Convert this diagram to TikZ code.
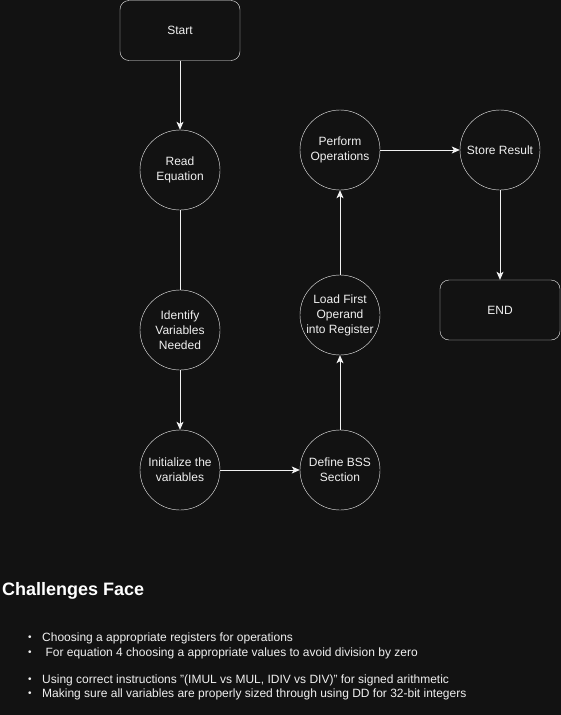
\documentclass[tikz,border=0pt]{standalone}
\usepackage{fontspec}
\setmainfont{Liberation Sans}
\usetikzlibrary{arrows.meta}
\definecolor{bgdark}{HTML}{121212}
\definecolor{inkwhite}{HTML}{F0F0F0}
\tikzset{
    stepcircle/.style={circle, draw=inkwhite, fill=bgdark, minimum size=80pt, inner sep=0pt,
        align=center, text=inkwhite, font=\fontsize{12}{15}\selectfont},
    endbox/.style={rectangle, rounded corners=9pt, draw=inkwhite, fill=bgdark, minimum width=120pt,
        minimum height=60pt, text=inkwhite, font=\fontsize{12}{15}\selectfont},
    flow/.style={draw=inkwhite, line width=0.9pt, -{Stealth[length=8pt,width=7pt,inset=2pt]}},
    plain/.style={draw=inkwhite, line width=0.9pt},
    bullettext/.style={anchor=west, inner sep=0pt, text=inkwhite, font=\fontsize{12}{14}\selectfont},
}
\begin{document}
\begin{tikzpicture}[x=1pt, y=-1pt]
    \fill[bgdark] (0,0) rectangle (561,715);
    \useasboundingbox (0,0) rectangle (561,715);
    % flow chart
    \node[endbox] (start) at (180,30.5) {Start};
    \node[stepcircle] (read) at (180,170) {Read\\Equation};
    \node[stepcircle] (identify) at (180,330) {Identify\\Variables\\Needed};
    \node[stepcircle] (init) at (180,470) {Initialize the\\variables};
    \node[stepcircle] (bss) at (340,470) {Define BSS\\Section};
    \node[stepcircle] (load) at (340,315) {Load First\\Operand\\into Register};
    \node[stepcircle] (perform) at (340,150) {Perform\\Operations};
    \node[stepcircle] (store) at (500,150) {Store Result};
    \node[endbox] (finish) at (500,310) {END};
    \draw[flow] (start) -- (read);
    \draw[plain] (read) -- (identify);
    \draw[flow] (identify) -- (init);
    \draw[flow] (init) -- (bss);
    \draw[flow] (bss) -- (load);
    \draw[flow] (load) -- (perform);
    \draw[flow] (perform) -- (store);
    \draw[flow] (store) -- (finish);
    % challenges
    \node[anchor=west, inner sep=0pt, text=white, font=\fontsize{18}{21}\selectfont\bfseries] (title) at (2,591) {Challenges Face};
    \foreach \ypos/\label [count=\i] in {638/{Choosing a appropriate registers for operations},
        653/{\ For equation 4 choosing a appropriate values to avoid division by zero},
        680/{Using correct instructions "(IMUL vs MUL, IDIV vs DIV)" for signed arithmetic},
        694/{Making sure all variables are properly sized through using DD for 32-bit integers}} {
        \node[bullettext] (dot\i) at (28,\ypos) {\fontsize{10}{10}\selectfont\textbullet};
        \node[bullettext] (item\i) at (42,\ypos) {\label};
    }
\end{tikzpicture}
\end{document}
